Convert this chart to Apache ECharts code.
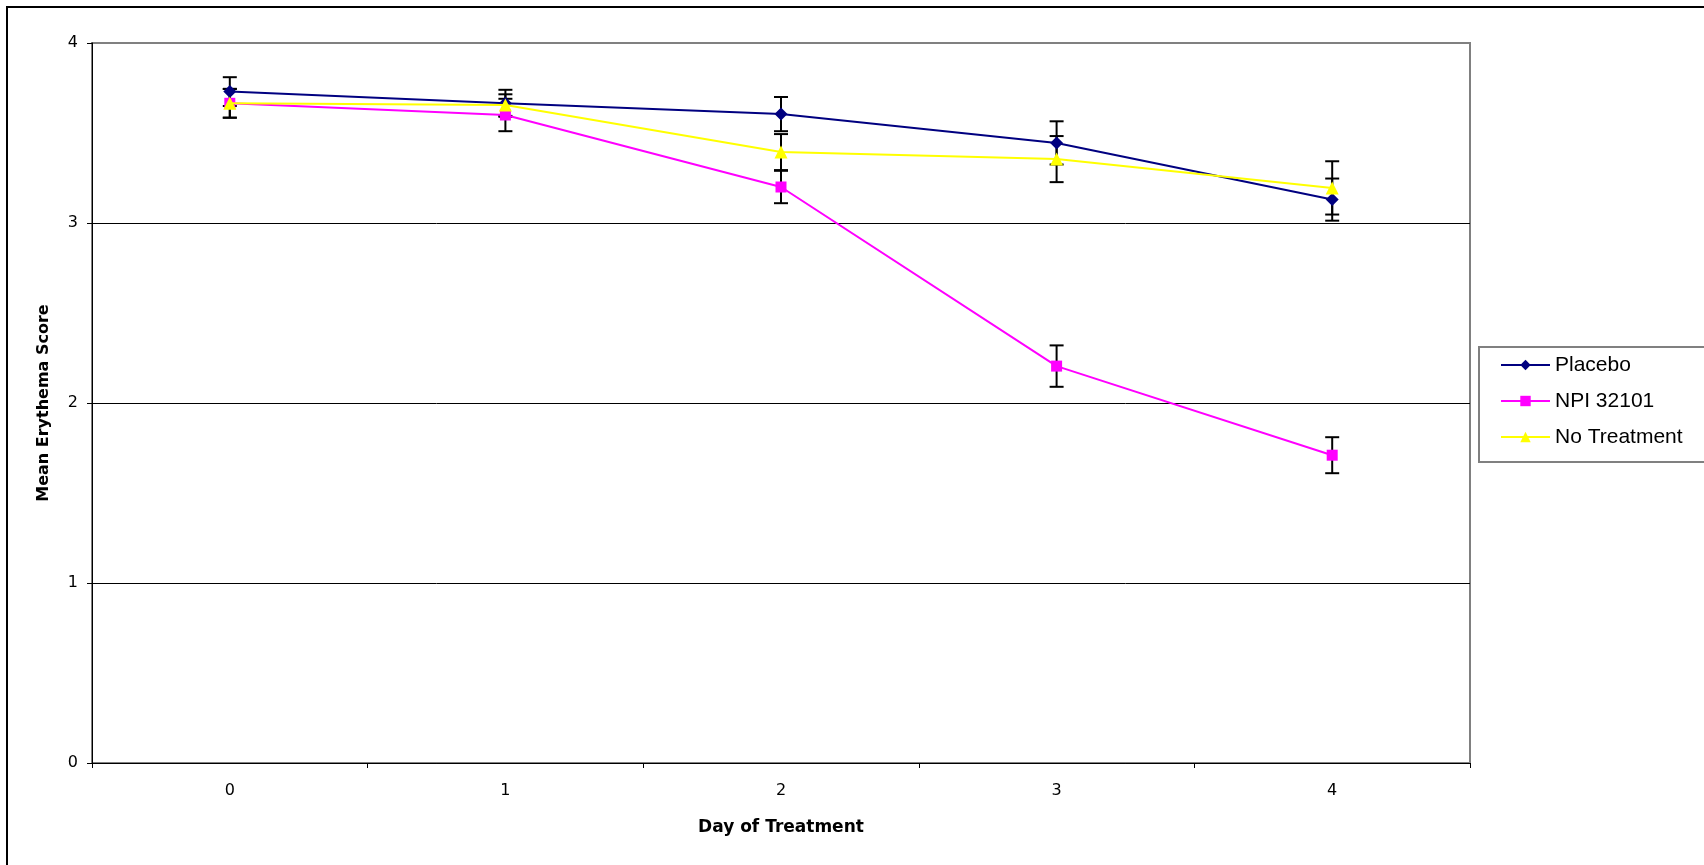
<!DOCTYPE html>
<html>
<head>
<meta charset="utf-8">
<script src="https://cdn.jsdelivr.net/npm/echarts@6/dist/echarts.min.js"></script>
<style>
html,body{margin:0;padding:0;background:#fff;}
#chart{width:1704px;height:865px;}
</style>
</head>
<body>
<div id="chart"></div>
<script>
const days = ['0', '1', '2', '3', '4'];
const seriesNames = ['Placebo', 'NPI 32101', 'No Treatment'];
const placebo = [3.73, 3.665, 3.605, 3.445, 3.13];
const npi = [3.665, 3.60, 3.20, 2.205, 1.71];
const noTreatment = [3.665, 3.655, 3.394, 3.355, 3.195];
const placeboErr = [0.08, 0.075, 0.095, 0.12, 0.117];
const npiErr = [0.08, 0.09, 0.09, 0.115, 0.10];
const noTreatmentErr = [0.08, 0.06, 0.10, 0.128, 0.148];
const yTicks = [0, 1, 2, 3, 4];

function errData(vals, errs) {
  return vals.map((v, i) => [i, v - errs[i], v + errs[i]]);
}
const allErr = [].concat(
  errData(placebo, placeboErr),
  errData(npi, npiErr),
  errData(noTreatment, noTreatmentErr)
);

const chart = echarts.init(document.getElementById('chart'), null, {renderer: 'canvas'});
const option = {
  backgroundColor: '#fff',
  animation: false,
  graphic: [{
    type: 'rect', z: 0, silent: true,
    shape: {x: 7, y: 7, width: 1800, height: 1000},
    style: {fill: 'none', stroke: '#000', lineWidth: 2}
  }],
  grid: {
    left: 92, top: 43, right: 234, bottom: 102,
    show: true, borderColor: '#808080', borderWidth: 2, backgroundColor: '#fff'
  },
  legend: {
    orient: 'vertical',
    left: 1479, top: 347,
    padding: [7, 60, 14, 21],
    itemWidth: 49, itemHeight: 13, itemGap: 14,
    borderColor: '#808080', borderWidth: 2, backgroundColor: '#fff',
    data: seriesNames,
    textStyle: {fontFamily: 'Liberation Sans, Arial', fontSize: 21, color: '#000', lineHeight: 22}
  },
  xAxis: {
    type: 'category', data: days, boundaryGap: true,
    name: 'Day of Treatment', nameLocation: 'middle', nameGap: 56,
    nameTextStyle: {fontFamily: 'DejaVu Sans', fontWeight: 'bold', fontSize: 17, color: '#000'},
    axisLine: {lineStyle: {color: '#000', width: 1}},
    axisTick: {show: true, length: 5, lineStyle: {color: '#000'}},
    axisLabel: {fontFamily: 'DejaVu Sans', fontSize: 16, color: '#000', margin: 20},
    splitLine: {show: false}
  },
  yAxis: {
    type: 'value', min: yTicks[0], max: yTicks[yTicks.length - 1], interval: 1,
    name: 'Mean Erythema Score', nameLocation: 'middle', nameGap: 40, nameRotate: 90,
    nameTextStyle: {fontFamily: 'DejaVu Sans', fontWeight: 'bold', fontSize: 16, color: '#000'},
    axisLine: {show: true, lineStyle: {color: '#000', width: 1}},
    axisTick: {show: true, length: 5, lineStyle: {color: '#000'}},
    axisLabel: {fontFamily: 'DejaVu Sans', fontSize: 16, color: '#000', margin: 14},
    splitLine: {show: true, lineStyle: {color: ['#000', '#000', '#000', '#000', '#808080'], width: 1}}
  },
  series: [
    {
      type: 'custom', name: 'errors', z: 1, silent: true,
      data: allErr,
      renderItem: function (params, api) {
        const x = api.value(0);
        const lo = api.coord([x, api.value(1)]);
        const hi = api.coord([x, api.value(2)]);
        const hw = 7;
        const st = {stroke: '#000', lineWidth: 2};
        return {
          type: 'group',
          children: [
            {type: 'line', shape: {x1: lo[0], y1: lo[1], x2: hi[0], y2: hi[1]}, style: st},
            {type: 'line', shape: {x1: lo[0] - hw, y1: lo[1], x2: lo[0] + hw, y2: lo[1]}, style: st},
            {type: 'line', shape: {x1: hi[0] - hw, y1: hi[1], x2: hi[0] + hw, y2: hi[1]}, style: st}
          ]
        };
      }
    },
    {
      type: 'line', name: seriesNames[0], data: placebo, z: 2,
      symbol: 'diamond', symbolSize: 13,
      lineStyle: {color: '#000080', width: 2},
      itemStyle: {color: '#000080'}
    },
    {
      type: 'line', name: seriesNames[1], data: npi, z: 3,
      symbol: 'rect', symbolSize: 11,
      lineStyle: {color: '#FF00FF', width: 2},
      itemStyle: {color: '#FF00FF'}
    },
    {
      type: 'line', name: seriesNames[2], data: noTreatment, z: 4,
      symbol: 'triangle', symbolSize: 13,
      lineStyle: {color: '#FFFF00', width: 2},
      itemStyle: {color: '#FFFF00'}
    }
  ]
};
chart.setOption(option);
</script>
</body>
</html>
